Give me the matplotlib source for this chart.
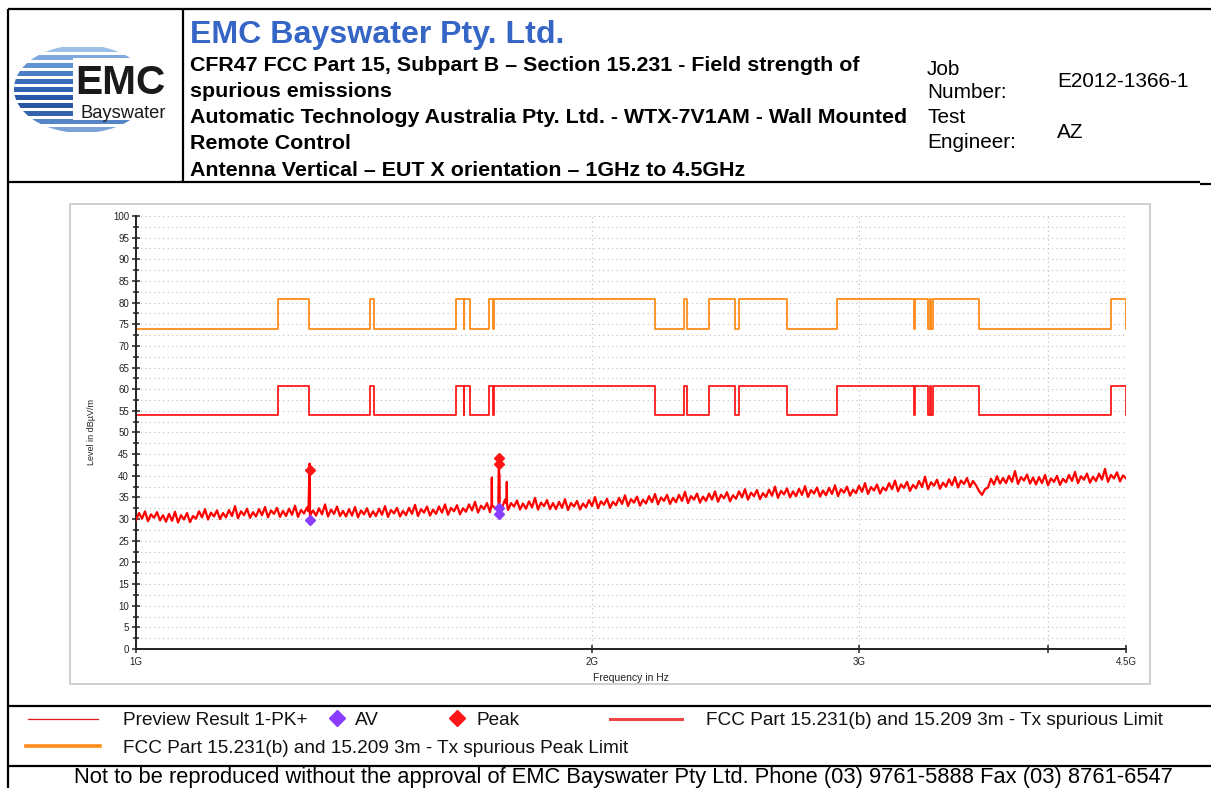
import numpy as np
import matplotlib
matplotlib.use('Agg')
import matplotlib.pyplot as plt
from matplotlib.lines import Line2D
from matplotlib.patches import Rectangle, Ellipse
from matplotlib.ticker import FixedLocator, MultipleLocator, NullLocator

plt.rcParams['font.family'] = ['Liberation Sans', 'DejaVu Sans']

W, H = 1211, 788

# ---------------- data ----------------
sweep_start_hz = 1.0e9
sweep_stop_hz = 4.5e9
trace_level = [
    29.8, 31.4, 30.1, 31.8, 29.5, 31.1, 30.3, 31.6, 29.7, 30.9,
    29.4, 31.2, 29.6, 31.7, 29.2, 30.9, 29.9, 31.4, 29.3, 30.7,
    30.1, 31.8, 30.4, 32.3, 29.9, 31.5, 30.6, 32.0, 30.0, 31.4,
    30.4, 32.1, 30.7, 33.0, 30.2, 31.8, 30.9, 32.4, 30.3, 31.6,
    30.6, 32.3, 30.9, 32.8, 30.4, 32.0, 31.2, 32.6, 30.5, 31.9,
    30.7, 32.4, 31.0, 33.1, 30.5, 32.1, 31.3, 32.7, 30.6, 32.0,
    30.8, 32.5, 31.1, 33.4, 30.6, 32.2, 31.2, 32.9, 30.7, 31.9,
    30.6, 32.3, 30.8, 32.8, 30.4, 32.0, 31.1, 32.5, 30.5, 31.8,
    30.7, 32.4, 31.0, 33.0, 30.5, 32.1, 31.3, 32.6, 30.6, 31.9,
    30.9, 32.6, 31.2, 33.3, 30.7, 32.3, 31.5, 32.9, 30.8, 32.2,
    31.2, 32.9, 31.5, 33.4, 31.0, 32.6, 31.8, 33.2, 31.1, 32.5,
    31.7, 33.4, 32.0, 34.0, 31.5, 33.1, 32.3, 33.7, 31.6, 33.0,
    32.3, 34.0, 32.6, 34.5, 32.1, 33.7, 32.9, 34.3, 32.2, 33.6,
    32.4, 34.1, 32.7, 34.9, 32.2, 33.8, 33.0, 34.4, 32.3, 33.7,
    32.3, 34.0, 32.6, 34.6, 32.1, 33.7, 32.9, 34.2, 32.2, 33.6,
    32.7, 34.4, 33.0, 35.1, 32.5, 34.1, 33.3, 34.7, 32.6, 34.0,
    33.2, 34.9, 33.5, 35.5, 33.0, 34.6, 33.8, 35.2, 33.1, 34.5,
    33.6, 35.3, 33.9, 35.8, 33.4, 35.0, 34.2, 35.6, 33.5, 34.9,
    33.9, 35.6, 34.2, 36.3, 33.7, 35.3, 34.5, 35.9, 33.8, 35.2,
    34.2, 35.9, 34.5, 36.4, 34.0, 35.6, 34.8, 36.2, 34.1, 35.5,
    34.7, 36.4, 35.0, 36.9, 34.5, 36.1, 35.3, 36.7, 34.6, 36.0,
    35.1, 36.8, 35.4, 37.5, 34.9, 36.5, 35.7, 37.1, 35.0, 36.4,
    35.3, 37.0, 35.6, 37.6, 35.1, 36.7, 35.9, 37.3, 35.2, 36.6,
    35.5, 37.2, 35.8, 37.8, 35.3, 36.9, 36.1, 37.5, 35.4, 36.8,
    36.0, 37.7, 36.3, 38.3, 35.8, 37.4, 36.6, 38.0, 35.9, 37.3,
    36.6, 38.3, 36.9, 38.9, 36.4, 38.0, 37.2, 38.6, 36.5, 37.9,
    37.1, 38.8, 37.4, 39.8, 36.9, 38.5, 37.7, 39.1, 37.0, 38.4,
    37.5, 39.2, 37.8, 39.7, 37.3, 38.9, 38.1, 39.5, 37.4, 38.8,
    37.8, 36.5, 35.6, 36.9, 37.3, 39.3, 38.0, 39.9, 38.2, 39.5,
    38.3, 40.0, 38.6, 41.1, 38.1, 39.7, 38.9, 40.3, 38.2, 39.6,
    38.0, 39.7, 38.3, 40.2, 37.8, 39.4, 38.6, 40.0, 37.9, 39.3,
    38.5, 40.2, 38.8, 40.9, 38.3, 39.9, 39.1, 40.5, 38.4, 39.8,
    38.8, 40.5, 39.1, 41.6, 38.6, 40.2, 39.4, 40.8, 38.7, 40.1,
    39.4,
]
spike_freq_ghz = [1.2995, 1.3010, 1.3018, 1.3025, 1.3040,
                  1.7163, 1.7170, 1.7177,
                  1.7347, 1.7355, 1.73568, 1.7363, 1.7372,
                  1.7558, 1.7565, 1.7572]
spike_level = [31.8, 38.5, 42.8, 37.5, 31.2,
               33.4, 39.6, 33.2,
               33.2, 42.9, 44.6, 40.5, 33.4,
               33.6, 38.6, 33.5]

peak_freq_ghz = [1.30176, 1.7355, 1.73568]
peak_level = [41.4, 42.7, 44.0]
av_freq_ghz = [1.30176, 1.7355, 1.73568]
av_level = [29.9, 31.1, 32.6]

limit_edges_mhz = [1000, 1240, 1300, 1427, 1435, 1626.5, 1645.5, 1646.5, 1660,
                   1710, 1718.8, 1722.2, 2200, 2300, 2310, 2390, 2483.5, 2500,
                   2690, 2900, 3260, 3267, 3332, 3339, 3345.8, 3358, 3600, 4400,
                   4500]
limit_avg = [54, 60.8, 54, 60.8, 54, 60.8, 54, 60.8, 54, 60.8, 54, 60.8, 54,
             60.8, 54, 60.8, 54, 60.8, 54, 60.8, 54, 60.8, 54, 60.8, 54, 60.8,
             54, 60.8, 54]
limit_peak = [74, 80.8, 74, 80.8, 74, 80.8, 74, 80.8, 74, 80.8, 74, 80.8, 74,
              80.8, 74, 80.8, 74, 80.8, 74, 80.8, 74, 80.8, 74, 80.8, 74, 80.8,
              74, 80.8, 74]

x_tick_ghz = [1, 2, 3, 4, 4.5]
x_tick_labels = ['1G', '2G', '3G', '', '4.5G']

# ---------------- figure ----------------
fig = plt.figure(figsize=(W / 100, H / 100), dpi=100)
renderer = fig.canvas.get_renderer()


def fx(x):
    return x / W


def fy(y):
    return 1 - y / H


def fig_line(x0, y0, x1, y1, **kw):
    fig.add_artist(Line2D([fx(x0), fx(x1)], [fy(y0), fy(y1)],
                          transform=fig.transFigure, **kw))


def fit(t, width_px):
    bb = t.get_window_extent(renderer)
    t.set_fontsize(t.get_fontsize() * width_px / bb.width)
    return t.get_fontsize()


def ftext(x, y, s, **kw):
    return fig.text(fx(x), fy(y), s, transform=fig.transFigure, **kw)


# frame lines
blk = dict(color='black', lw=1.6, solid_capstyle='butt')
fig_line(8, 9, 1211, 9, **blk)
fig_line(8, 9, 8, 788, **blk)
fig_line(183, 9, 183, 182, **blk)
fig_line(8, 182, 1200, 182, **blk)
fig_line(1200, 184, 1211, 184, **blk)
fig_line(8, 706, 1211, 706, **blk)
fig_line(8, 766, 1211, 766, **blk)

# ---------------- logo ----------------
lax = fig.add_axes([fx(10), fy(140), fx(170), (140 - 40) / H])
lax.set_xlim(10, 180)
lax.set_ylim(140, 40)
lax.axis('off')
clip = Ellipse((82, 89), 136, 88, transform=lax.transData, facecolor='none',
               edgecolor='none')
lax.add_patch(clip)
stripe_y = [49, 57, 65, 73, 81, 89, 97, 105, 113, 121, 129]
stripe_c = ['#9CC0E6', '#7FA9DD', '#6394D2', '#4A7FC6', '#3A6EBB', '#2F62B1',
            '#2A58A6', '#2A559F', '#3564AE', '#5585C5', '#7BA3D8']
for yy, cc in zip(stripe_y, stripe_c):
    ln, = lax.plot([5, 185], [yy, yy], color=cc, lw=3.6, solid_capstyle='butt')
    ln.set_clip_path(clip)
lax.add_patch(Rectangle((73, 58), 100, 62, facecolor='white', edgecolor='none',
                        zorder=3))
t = lax.text(75, 94, 'EMC', fontsize=30, fontweight='bold', color='#1A1A1A',
             va='baseline', ha='left', zorder=4)
fit(t, 90)
t = lax.text(80, 118, 'Bayswater', fontsize=12, color='#1A1A1A',
             va='baseline', ha='left', zorder=4)
fit(t, 86)

# ---------------- header text ----------------
t = ftext(190, 43, 'EMC Bayswater Pty. Ltd.', fontsize=20, fontweight='bold',
          color='#3566C6', va='baseline')
fit(t, 375)
hdr_lines = ['CFR47 FCC Part 15, Subpart B \u2013 Section 15.231 - Field strength of',
             'spurious emissions',
             'Automatic Technology Australia Pty. Ltd. - WTX-7V1AM - Wall Mounted',
             'Remote Control',
             'Antenna Vertical \u2013 EUT X orientation \u2013 1GHz to 4.5GHz']
hdr_base = [71, 97, 123, 149, 176]
t0 = ftext(190, hdr_base[0], hdr_lines[0], fontsize=13, fontweight='bold',
           va='baseline')
hs = fit(t0, 667)
for s, b in zip(hdr_lines[1:], hdr_base[1:]):
    ftext(190, b, s, fontsize=hs, fontweight='bold', va='baseline')

tE = ftext(1057, 87, 'E2012-1366-1', fontsize=13, va='baseline')
rs = fit(tE, 131)
ftext(927, 75, 'Job', fontsize=rs, va='baseline')
ftext(927, 98, 'Number:', fontsize=rs, va='baseline')
ftext(927, 123, 'Test', fontsize=rs, va='baseline')
ftext(927, 148, 'Engineer:', fontsize=rs, va='baseline')
ftext(1057, 138, 'AZ', fontsize=rs, va='baseline')

# ---------------- plot box ----------------
fig.add_artist(Rectangle((fx(70), fy(684)), 1080 / W, 480 / H,
                         transform=fig.transFigure, fill=False,
                         edgecolor='#CCCCCC', lw=1.3))

ax = fig.add_axes([fx(136), fy(649), 990 / W, 433 / H])
ax.set_xscale('log')
ax.set_xlim(sweep_start_hz, sweep_stop_hz)
ax.set_ylim(0, 100)
for side in ('top', 'right'):
    ax.spines[side].set_visible(False)
for side in ('left', 'bottom'):
    ax.spines[side].set_linewidth(1.4)
    ax.spines[side].set_color('#222222')

ax.xaxis.set_major_locator(FixedLocator([g * 1e9 for g in x_tick_ghz]))
ax.xaxis.set_minor_locator(NullLocator())
ax.set_xticklabels(x_tick_labels)
ax.yaxis.set_major_locator(MultipleLocator(5))
ax.yaxis.set_minor_locator(MultipleLocator(2.5))
ax.tick_params(which='major', direction='inout', length=6, width=1.1,
               labelsize=7, colors='#222222', pad=2)
ax.tick_params(which='minor', direction='inout', length=5, width=1.1,
               colors='#222222')
ax.tick_params(axis='x', pad=3)
ax.grid(True, which='both', axis='y', linestyle=(0, (1, 3)), color='#BDBDBD',
        lw=0.8)
ax.grid(True, which='major', axis='x', linestyle=(0, (1, 3)), color='#BDBDBD',
        lw=0.8)
ax.set_axisbelow(True)

# limits
ax.step(np.array(limit_edges_mhz) * 1e6, limit_peak, where='post',
        color='#FF8C1A', lw=1.3, zorder=2)
ax.step(np.array(limit_edges_mhz) * 1e6, limit_avg, where='post',
        color='#FF1A1A', lw=1.3, zorder=2)

# trace
sweep_hz = np.geomspace(sweep_start_hz, sweep_stop_hz, len(trace_level))
all_f = np.concatenate([sweep_hz, np.array(spike_freq_ghz) * 1e9])
all_l = np.concatenate([np.array(trace_level), np.array(spike_level)])
order = np.argsort(all_f)
ax.plot(all_f[order], all_l[order], color='#FF0000', lw=1.6, zorder=3)

ax.plot(np.array(av_freq_ghz) * 1e9, av_level, 'D', color='#8A3CFF', ms=5,
        mec='#8A3CFF', zorder=5, clip_on=False)
ax.plot(np.array(peak_freq_ghz) * 1e9, peak_level, 'D', color='#FF1515', ms=5,
        mec='#FF1515', zorder=5, clip_on=False)

ftext(631, 681, 'Frequency in Hz', fontsize=7.5, ha='center', va='baseline',
      color='#222222')
ftext(92, 432, 'Level in dB\u00b5V/m', fontsize=6.5, ha='center', va='center',
      rotation=90, color='#222222')

# ---------------- legend ----------------
fig_line(28, 719, 98, 719, color='#E01A1A', lw=0.9)
tl = ftext(123, 725, 'Preview Result 1-PK+', fontsize=12, va='baseline',
           color='#111111')
fig.add_artist(Line2D([fx(337)], [fy(718)], marker='D', ms=8,
                      color='#8A3CFF', transform=fig.transFigure))
fig.add_artist(Line2D([fx(457)], [fy(718)], marker='D', ms=8,
                      color='#FF1515', transform=fig.transFigure))
fig_line(610, 719, 682, 719, color='#F04545', lw=2.2)
fig_line(26, 746, 100, 746, color='#FF8C1A', lw=2.6)
tlong = ftext(706, 725, 'FCC Part 15.231(b) and 15.209 3m - Tx spurious Limit',
              fontsize=12, va='baseline', color='#111111')
ls = fit(tlong, 459)
tl.set_fontsize(ls)
ftext(355, 725, 'AV', fontsize=ls, va='baseline', color='#111111')
ftext(477, 725, 'Peak', fontsize=ls, va='baseline', color='#111111')
ftext(123, 753, 'FCC Part 15.231(b) and 15.209 3m - Tx spurious Peak Limit',
      fontsize=ls, va='baseline', color='#111111')

# ---------------- footer ----------------
tf = ftext(623, 783, 'Not to be reproduced without the approval of EMC Bayswater '
           'Pty Ltd. Phone (03) 9761-5888 Fax (03) 8761-6547', fontsize=13,
           ha='center', va='baseline')
fit(tf, 1097)

fig.savefig('out.png', dpi=100)
